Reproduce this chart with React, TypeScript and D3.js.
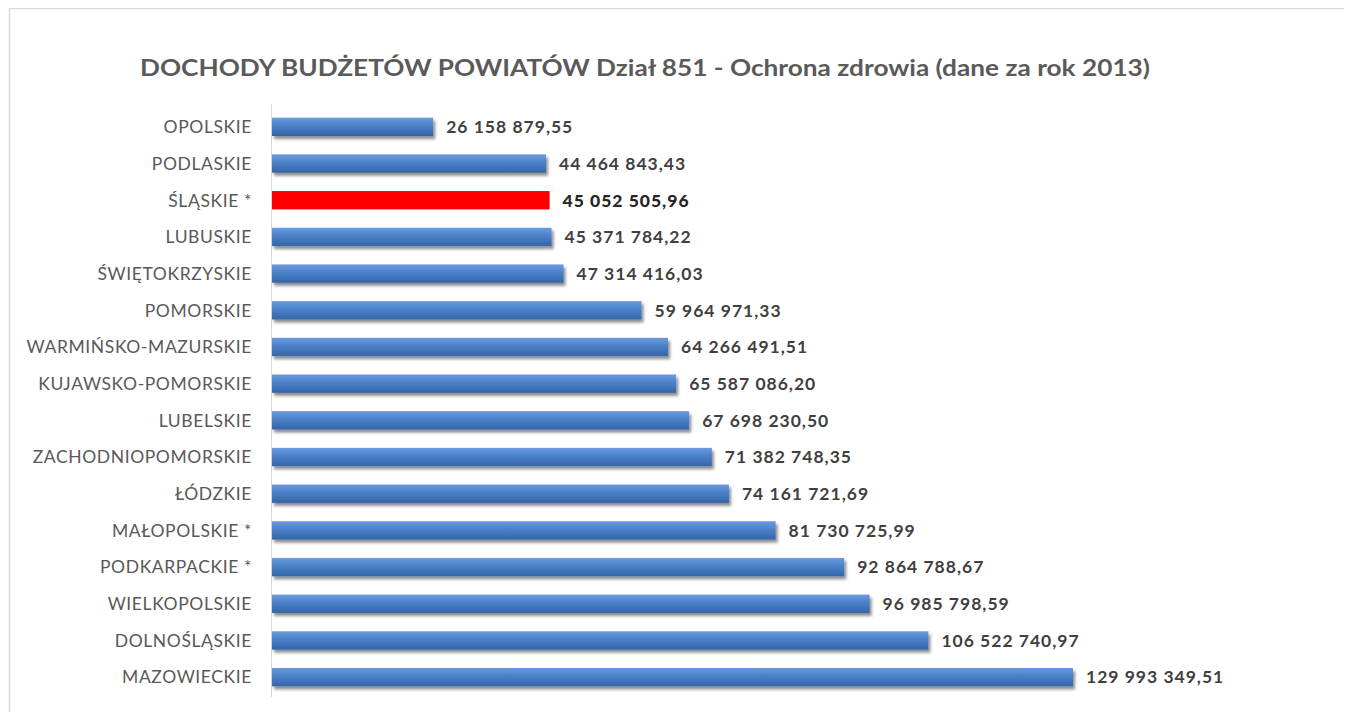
import React, { useEffect, useRef } from "react";
import * as d3 from "d3";

const categories = [
  "OPOLSKIE", "PODLASKIE", "ŚLĄSKIE *", "LUBUSKIE", "ŚWIĘTOKRZYSKIE", "POMORSKIE",
  "WARMIŃSKO-MAZURSKIE", "KUJAWSKO-POMORSKIE", "LUBELSKIE", "ZACHODNIOPOMORSKIE",
  "ŁÓDZKIE", "MAŁOPOLSKIE *", "PODKARPACKIE *", "WIELKOPOLSKIE", "DOLNOŚLĄSKIE", "MAZOWIECKIE",
];
const values = [
  26158879.55, 44464843.43, 45052505.96, 45371784.22, 47314416.03, 59964971.33,
  64266491.51, 65587086.2, 67698230.5, 71382748.35, 74161721.69, 81730725.99,
  92864788.67, 96985798.59, 106522740.97, 129993349.51,
];
const highlighted = ["ŚLĄSKIE *"];
const title = "DOCHODY BUDŻETÓW POWIATÓW Dział 851 - Ochrona zdrowia (dane za rok 2013)";

const fmt = (v: number) => {
  const [int, dec] = v.toFixed(2).split(".");
  return int.replace(/\B(?=(\d{3})+(?!\d))/g, " ") + "," + dec;
};

export default function App() {
  const ref = useRef<SVGSVGElement>(null);
  useEffect(() => {
    const svg = d3.select(ref.current);
    svg.selectAll("*").remove();
    const W = 1352, H = 720;
    const left = 272, top = 108.5, bottom = 695.5;
    const font = "Lato, 'Open Sans', sans-serif";

    const defs = svg.append("defs");
    const g1 = defs.append("linearGradient").attr("id", "blueGrad").attr("x1", 0).attr("y1", 0).attr("x2", 0).attr("y2", 1);
    g1.append("stop").attr("offset", "0%").attr("stop-color", "#6a9ae0");
    g1.append("stop").attr("offset", "45%").attr("stop-color", "#4a80c8");
    g1.append("stop").attr("offset", "100%").attr("stop-color", "#3565a8");
    const f = defs.append("filter").attr("id", "shadow").attr("x", "-5%").attr("y", "-50%").attr("width", "120%").attr("height", "250%");
    f.append("feDropShadow").attr("dx", 2).attr("dy", 3).attr("stdDeviation", 1.8).attr("flood-color", "#000").attr("flood-opacity", 0.45);

    svg.append("rect").attr("x", 0).attr("y", 0).attr("width", W).attr("height", H).attr("fill", "#fff");
    svg.append("rect").attr("x", 9.5).attr("y", 8.5).attr("width", 1336).attr("height", 730)
      .attr("fill", "#fff").attr("stroke", "#d9d9d9").attr("stroke-width", 1.5);

    svg.append("text").attr("x", 645).attr("y", 76).attr("text-anchor", "middle")
      .attr("font-family", font).attr("font-size", 22).attr("font-weight", 700).attr("fill", "#5a5a5a")
      .attr("textLength", 1010).attr("lengthAdjust", "spacingAndGlyphs")
      .text(title);

    const x = d3.scaleLinear().domain([0, 129993349.51]).range([left, 1073]);
    const y = d3.scaleBand().domain(categories).range([top, bottom]).paddingInner(0.5).paddingOuter(0.25);

    svg.append("line").attr("x1", left - 0.5).attr("x2", left - 0.5).attr("y1", 104).attr("y2", 697)
      .attr("stroke", "#d9d9d9").attr("stroke-width", 1);

    const rows = svg.append("g").selectAll("g").data(categories).enter().append("g");
    rows.append("rect")
      .attr("x", left)
      .attr("y", d => y(d)!)
      .attr("height", y.bandwidth())
      .attr("width", (d, i) => x(values[i]) - left)
      .attr("fill", d => highlighted.includes(d) ? "#ff0000" : "url(#blueGrad)")
      .attr("filter", d => highlighted.includes(d) ? null : "url(#shadow)");
    rows.append("text")
      .attr("x", left - 20)
      .attr("y", d => y(d)! + y.bandwidth() / 2)
      .attr("dy", "0.36em")
      .attr("text-anchor", "end")
      .attr("font-family", font).attr("font-size", 17.5).attr("letter-spacing", 0.6).attr("fill", "#595959")
      .text(d => d);
    rows.append("text")
      .attr("x", (d, i) => x(values[i]) + 13)
      .attr("y", d => y(d)! + y.bandwidth() / 2)
      .attr("dy", "0.36em")
      .attr("font-family", font).attr("font-size", 17.5).attr("letter-spacing", 1)
      .attr("font-weight", d => highlighted.includes(d) ? 900 : 700)
      .attr("fill", d => highlighted.includes(d) ? "#262626" : "#404040")
      .text((d, i) => fmt(values[i]));
  }, []);
  return <svg ref={ref} width={1352} height={720} style={{ display: "block", margin: "-8px" }} />;
}
